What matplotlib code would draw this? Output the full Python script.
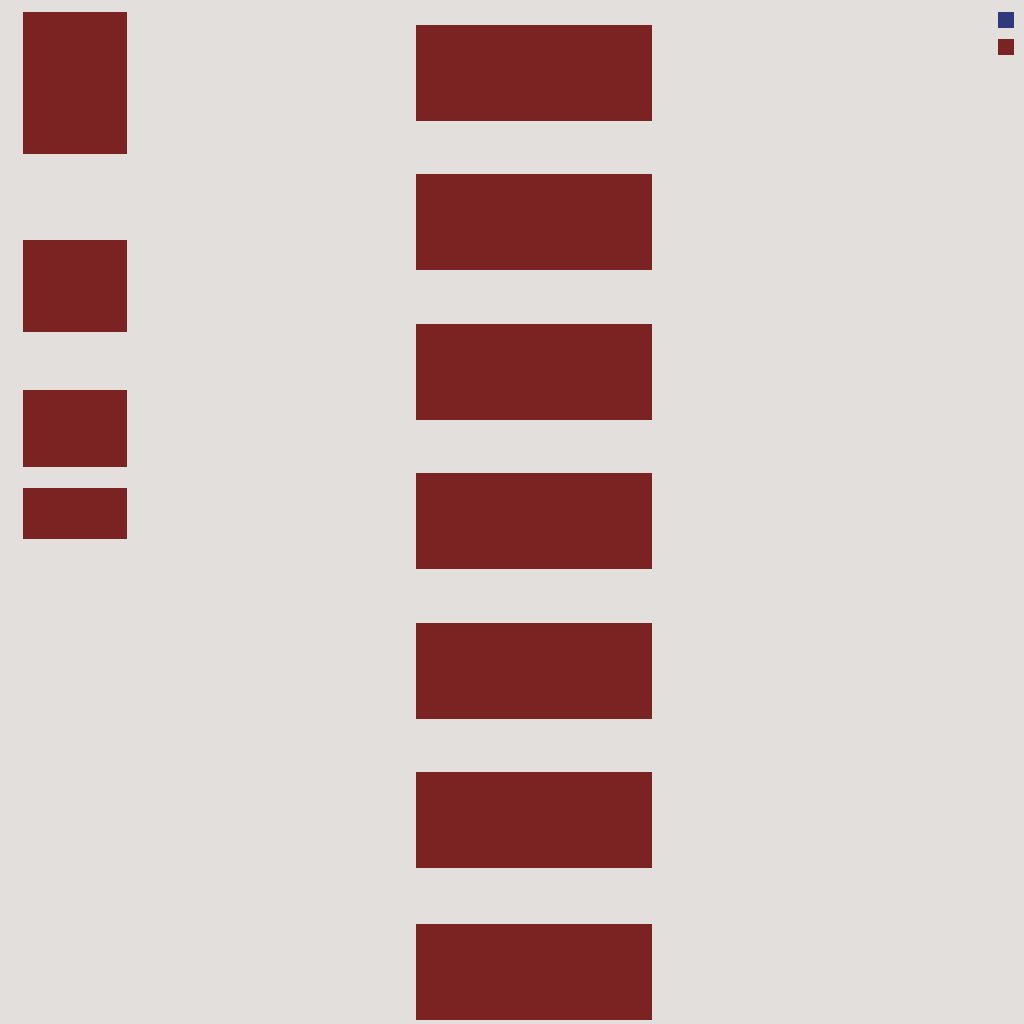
import matplotlib.pyplot as plt
from matplotlib.patches import Patch

# source column (left) - node tops and sizes
left_tops = [12, 240, 390, 488]
left_sizes = [142, 92, 77, 51]

# target column (right) - seven equal nodes
right_tops = [25, 174, 324, 473, 623, 772, 924]
right_sizes = [96, 96, 96, 96, 96, 96, 96]

series_colors = ['#2E3A7A', '#7B2223']
bg = '#E2DFDC'

fig = plt.figure(figsize=(10.24, 10.24), dpi=100, facecolor=bg)
ax = fig.add_axes([0, 0, 1, 1])
ax.set_facecolor(bg)
ax.set_xlim(0, 1024)
ax.set_ylim(1024, 0)
ax.axis('off')

# left nodes
ax.bar([75] * len(left_tops), left_sizes, bottom=left_tops, width=104,
       color=series_colors[1], linewidth=0)
# right nodes
ax.bar([534] * len(right_tops), right_sizes, bottom=right_tops, width=236,
       color=series_colors[1], linewidth=0)

# legend with colour keys only
handles = [Patch(facecolor=c, edgecolor='none') for c in series_colors]
fig.legend(handles, ['', ''], loc='upper right',
           bbox_to_anchor=(1014 / 1024, 1 - 12 / 1024),
           frameon=False, fontsize=11.52, handlelength=1, handleheight=1.15,
           handletextpad=0, borderpad=0, borderaxespad=0, labelspacing=0.66)

plt.savefig('out.png', dpi=100, facecolor=bg)
